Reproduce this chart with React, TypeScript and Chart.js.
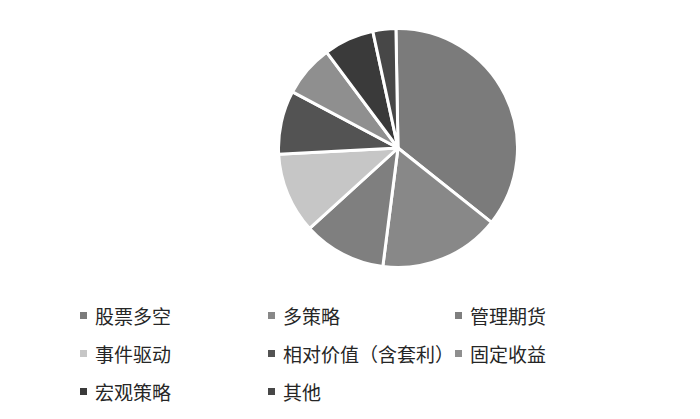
import React, { useEffect, useRef } from "react";
import { Chart, registerables } from "chart.js";

Chart.register(...registerables);

const categories = ["股票多空", "多策略", "管理期货", "事件驱动", "相对价值（含套利）", "固定收益", "宏观策略", "其他"];
const shares = [35.9, 16.3, 11.2, 10.9, 8.6, 7.0, 6.8, 3.1];
const colors = ["#7b7b7b", "#888888", "#7f7f7f", "#c6c6c6", "#535353", "#8f8f8f", "#3a3a3a", "#474747"];

// legend columns: x of the square marker, rows: y centre
const legendCols = [80, 268, 455];
const legendRows = [315, 353, 391];

export default function App() {
    const chartRef = useRef<HTMLCanvasElement>(null);

    useEffect(() => {
        if (!chartRef.current) return;
        const chart = new Chart(chartRef.current.getContext("2d")!, {
            type: "pie",
            data: {
                labels: categories,
                datasets: [{
                    data: shares,
                    backgroundColor: colors,
                    borderColor: "#ffffff",
                    borderWidth: 3,
                }],
            },
            options: {
                animation: false,
                responsive: true,
                maintainAspectRatio: false,
                rotation: -1,
                layout: { padding: 0 },
                plugins: {
                    legend: { display: false },
                    tooltip: { enabled: false },
                },
            },
        });
        return () => chart.destroy();
    }, []);

    return (
        <div style={{ position: "fixed", left: 0, top: 0, width: 700, height: 419, background: "#fff", overflow: "hidden" }}>
            <div style={{ position: "absolute", left: 277, top: 27, width: 242, height: 242 }}>
                <canvas ref={chartRef}></canvas>
            </div>
            {categories.map((c, i) => (
                <div key={c} style={{
                    position: "absolute",
                    left: legendCols[i % 3],
                    top: legendRows[Math.floor(i / 3)] - 14,
                    height: 28,
                    display: "flex",
                    alignItems: "center",
                    fontFamily: "'Noto Sans CJK SC', sans-serif",
                    fontSize: 19,
                    color: "#262626",
                    whiteSpace: "nowrap",
                }}>
                    <span style={{ display: "inline-block", width: 7, height: 7, background: colors[i], marginRight: 8 }}></span>
                    {c}
                </div>
            ))}
        </div>
    );
}
